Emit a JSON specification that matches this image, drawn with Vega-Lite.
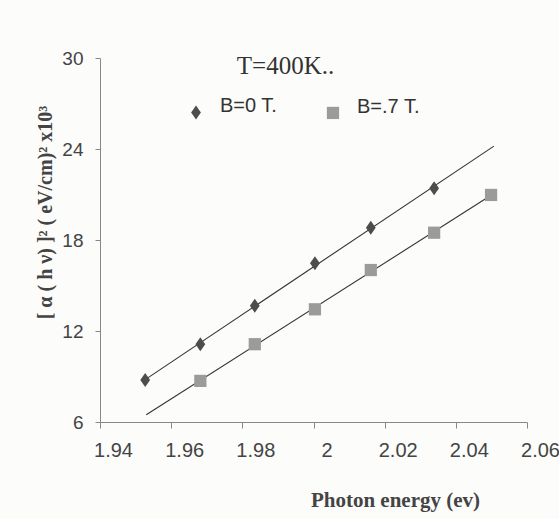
{
  "$schema": "https://vega.github.io/schema/vega-lite/v6.json",
  "width": 427,
  "height": 364,
  "autosize": {"type": "none"},
  "padding": {"left": 100, "top": 58, "right": 32, "bottom": 97},
  "background": "#fcfcfa",
  "title": {
    "text": "T=400K..",
    "font": "Liberation Serif",
    "fontSize": 25,
    "fontWeight": "normal",
    "color": "#333333",
    "anchor": "middle",
    "dx": -28,
    "dy": 33,
    "offset": -17,
    "baseline": "alphabetic"
  },
  "config": {
    "view": {"stroke": null},
    "axis": {
      "grid": false,
      "domainColor": "#888888",
      "tickColor": "#888888",
      "labelFont": "Liberation Sans",
      "labelColor": "#444444",
      "titleFont": "Liberation Serif",
      "titleColor": "#444444",
      "titleFontWeight": "bold"
    }
  },
  "data": {
    "values": [
      {"series": "B=0 T.", "x": 1.9527, "y": 8.77},
      {"series": "B=0 T.", "x": 1.9682, "y": 11.13},
      {"series": "B=0 T.", "x": 1.9835, "y": 13.67},
      {"series": "B=0 T.", "x": 2.0004, "y": 16.47},
      {"series": "B=0 T.", "x": 2.0161, "y": 18.81},
      {"series": "B=0 T.", "x": 2.0339, "y": 21.41},
      {"series": "B=.7 T.", "x": 1.9682, "y": 8.71},
      {"series": "B=.7 T.", "x": 1.9835, "y": 11.13},
      {"series": "B=.7 T.", "x": 2.0004, "y": 13.43},
      {"series": "B=.7 T.", "x": 2.0161, "y": 16.02},
      {"series": "B=.7 T.", "x": 2.0339, "y": 18.48},
      {"series": "B=.7 T.", "x": 2.0499, "y": 20.97}
    ]
  },
  "encoding": {
    "x": {
      "field": "x",
      "type": "quantitative",
      "scale": {"domain": [1.94, 2.06], "nice": false, "zero": false},
      "axis": {
        "values": [1.94, 1.96, 1.98, 2, 2.02, 2.04, 2.06],
        "format": "~g",
        "labelFontSize": 20,
        "labelOffset": 13,
        "labelPadding": 12,
        "tickSize": 6,
        "labelFlush": false,
        "labelOverlap": false,
        "title": "Photon energy (ev)",
        "titleFontSize": 21,
        "titleX": 295,
        "titleY": 84,
        "titleBaseline": "alphabetic",
        "titleAnchor": null
      }
    },
    "y": {
      "field": "y",
      "type": "quantitative",
      "scale": {"domain": [6, 30], "nice": false, "zero": false},
      "axis": {
        "values": [6, 12, 18, 24, 30],
        "labelFontSize": 19,
        "labelPadding": 12,
        "tickSize": 5,
        "labelFlush": false,
        "labelOverlap": false,
        "title": "[ α ( h ν)  ]² ( eV/cm)² x10³",
        "titleFontSize": 20,
        "titleAngle": 270,
        "titleX": -55,
        "titleY": 154,
        "titleBaseline": "middle",
        "titleAnchor": null
      }
    }
  },
  "layer": [
    {
      "transform": [
        {"filter": "datum.series === 'B=0 T.'"},
        {"regression": "y", "on": "x", "extent": [1.9527, 2.0507]}
      ],
      "mark": {"type": "line", "color": "#333333", "strokeWidth": 1.1}
    },
    {
      "transform": [
        {"filter": "datum.series === 'B=.7 T.'"},
        {"regression": "y", "on": "x", "extent": [1.953, 2.0499]}
      ],
      "mark": {"type": "line", "color": "#333333", "strokeWidth": 1.1}
    },
    {
      "mark": {"type": "point", "filled": true, "opacity": 1, "size": 150},
      "encoding": {
        "shape": {
          "field": "series",
          "type": "nominal",
          "scale": {"domain": ["B=0 T.", "B=.7 T."], "range": ["M0,-1.15L0.8,0L0,1.15L-0.8,0Z", "square"]},
          "legend": {
            "title": null,
            "orient": "none",
            "legendX": 86,
            "legendY": 44,
            "direction": "horizontal",
            "labelFont": "Liberation Sans",
            "labelFontSize": 20,
            "labelColor": "#333333",
            "labelBaseline": "alphabetic",
            "symbolSize": 150,
            "columnPadding": 45,
            "labelOffset": 14,
            "padding": 0
          }
        },
        "color": {
          "field": "series",
          "type": "nominal",
          "scale": {"domain": ["B=0 T.", "B=.7 T."], "range": ["#4d4d4d", "#9b9b9b"]},
          "legend": {
            "title": null,
            "orient": "none",
            "legendX": 86,
            "legendY": 44,
            "direction": "horizontal",
            "labelFont": "Liberation Sans",
            "labelFontSize": 20,
            "labelColor": "#333333",
            "labelBaseline": "alphabetic",
            "symbolSize": 150,
            "columnPadding": 45,
            "labelOffset": 14,
            "padding": 0
          }
        }
      }
    }
  ]
}
